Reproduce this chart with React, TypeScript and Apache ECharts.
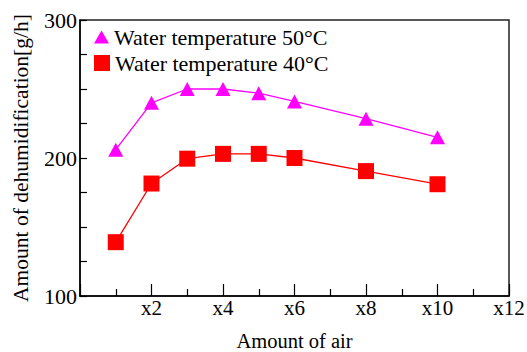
import React, { useEffect, useRef } from "react";
import * as echarts from "echarts";

const airAmount = [1, 2, 3, 4, 5, 6, 8, 10];
const temp50 = [206, 240, 250, 250, 247, 241, 228.5, 215];
const temp40 = [139, 181.5, 199.5, 203, 203, 200, 190.5, 181];
const seriesNames = ["Water temperature 50°C", "Water temperature 40°C"];
const xTickValues = [2, 4, 6, 8, 10, 12];
const yTickLabels = [100, 200, 300];

const FONT = "'Liberation Serif', 'Times New Roman', serif";

export default function App() {
  const ref = useRef<HTMLDivElement>(null);
  useEffect(() => {
    if (!ref.current) return;
    const chart = echarts.init(ref.current, undefined, { renderer: "svg" });
    chart.setOption({
      animation: false,
      backgroundColor: "#fff",
      textStyle: { fontFamily: FONT, color: "#000" },
      grid: {
        left: 80,
        top: 20,
        right: 18,
        bottom: 56,
        outerBoundsMode: "none",
        containLabel: false,
        show: true,
        borderColor: "#222",
        borderWidth: 1.5,
        backgroundColor: "transparent",
      },
      legend: [
        {
          data: [{ name: seriesNames[0], icon: "triangle" }],
          left: 94,
          top: 26,
          itemWidth: 15,
          itemHeight: 13,
          textStyle: { fontFamily: FONT, fontSize: 22, color: "#000" },
          padding: 0,
        },
        {
          data: [{ name: seriesNames[1], icon: "rect" }],
          left: 94,
          top: 52,
          itemWidth: 16,
          itemHeight: 16,
          textStyle: { fontFamily: FONT, fontSize: 22, color: "#000" },
          padding: 0,
        },
      ],
      xAxis: {
        type: "value",
        min: 0,
        max: 12,
        interval: 2,
        name: "Amount of air",
        nameLocation: "middle",
        nameGap: 34,
        nameTextStyle: { fontFamily: FONT, fontSize: 20.5, color: "#000" },
        axisLine: { show: true, lineStyle: { color: "#000", width: 1.5 } },
        axisTick: { show: true, inside: true, length: 12, lineStyle: { color: "#000", width: 1.2 } },
        minorTick: { show: true, splitNumber: 2, length: 7, lineStyle: { color: "#000", width: 1.2 } },
        splitLine: { show: false },
        minorSplitLine: { show: false },
        axisLabel: {
          margin: 1,
          fontFamily: FONT,
          fontSize: 21,
          color: "#000",
          formatter: (v: number) => (xTickValues.includes(v) ? "x" + v : ""),
        },
      },
      yAxis: {
        type: "value",
        min: 100,
        max: 300,
        interval: 25,
        name: "Amount of dehumidification[g/h]",
        nameLocation: "middle",
        nameGap: 48,
        nameTextStyle: { fontFamily: FONT, fontSize: 21.5, color: "#000" },
        axisLine: { show: true, lineStyle: { color: "#000", width: 1.5 } },
        axisTick: { show: true, inside: true, length: 7, lineStyle: { color: "#000", width: 1.2 } },
        splitLine: { show: false },
        axisLabel: {
          margin: 3,
          fontFamily: FONT,
          fontSize: 22,
          color: "#000",
          formatter: (v: number) => (yTickLabels.includes(v) ? String(v) : ""),
        },
      },
      series: [
        {
          name: seriesNames[0],
          type: "line",
          data: airAmount.map((x, i) => [x, temp50[i]]),
          symbol: "triangle",
          symbolSize: [15, 14],
          color: "#ff00ff",
          itemStyle: { color: "#ff00ff" },
          lineStyle: { color: "#ff00ff", width: 1.3 },
        },
        {
          name: seriesNames[1],
          type: "line",
          data: airAmount.map((x, i) => [x, temp40[i]]),
          symbol: "rect",
          symbolSize: 16,
          color: "#ff0000",
          itemStyle: { color: "#ff0000" },
          lineStyle: { color: "#ff0000", width: 1.3 },
        },
      ],
    });
    return () => chart.dispose();
  }, []);
  return (
    <div
      ref={ref}
      style={{ position: "fixed", left: 0, top: 0, width: 527, height: 352, background: "#fff" }}
    />
  );
}
